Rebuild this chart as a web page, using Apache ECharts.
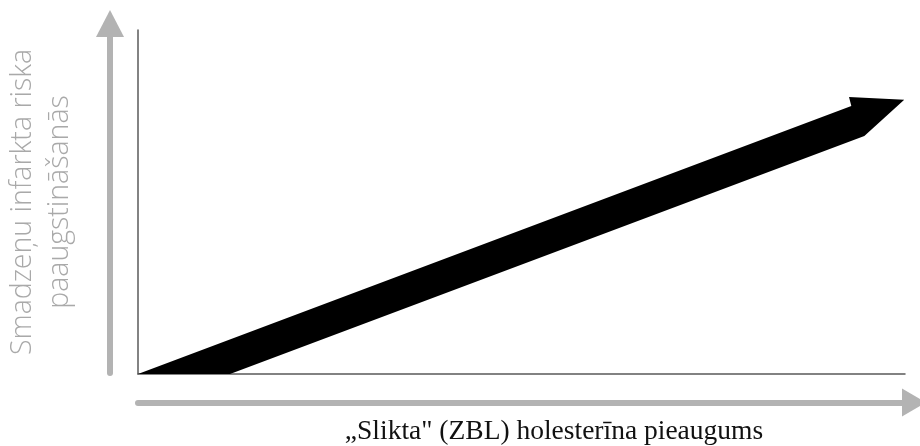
<!DOCTYPE html>
<html>
<head>
<meta charset="utf-8">
<script src="https://cdn.jsdelivr.net/npm/echarts@6/dist/echarts.min.js"></script>
<style>
  html, body { margin: 0; padding: 0; background: #fff; }
  #chart { width: 920px; height: 446px; }
</style>
</head>
<body>
<div id="chart"></div>
<script>
// black trend arrow outline, in axis units (0..100 on both axes)
const arrowX = [0, 93.0, 92.7, 99.9, 94.7, 12.0];
const arrowY = [0, 77.9, 80.5, 79.7, 69.2, 0];

const yName = "Smadzeņu infarkta riska\npaaugstināšanās";
const xName = "„Slikta\" (ZBL) holesterīna pieaugums";

const chart = echarts.init(document.getElementById("chart"));

const hidden = {
  axisTick: { show: false },
  axisLabel: { show: false },
  splitLine: { show: false }
};

chart.setOption({
  animation: false,
  grid: [
    { left: 138, right: 15, top: 30, bottom: 72, outerBoundsMode: "none" },
    { left: 110, width: 1, top: 23.5, bottom: 73, outerBoundsMode: "none" },
    { left: 138, right: 6, top: 300, bottom: 43.5, outerBoundsMode: "none" }
  ],
  xAxis: [
    {
      gridIndex: 0, type: "value", min: 0, max: 100, ...hidden,
      axisLine: { show: true, onZero: false, lineStyle: { color: "#5a5a5a", width: 1.5 } }
    },
    { gridIndex: 1, type: "value", min: 0, max: 1, show: false },
    {
      gridIndex: 2, type: "value", min: 0, max: 100, ...hidden,
      axisLine: {
        show: true, onZero: false,
        symbol: ["none", "triangle"], symbolSize: [28, 24],
        lineStyle: { color: "#b3b3b3", width: 6 }
      },
      name: xName,
      nameLocation: "middle",
      nameGap: 15,
      nameTextStyle: {
        fontFamily: "Liberation Serif", fontSize: 27.5, color: "#111",
        padding: [0, 0, 0, 56]
      }
    }
  ],
  yAxis: [
    {
      gridIndex: 0, type: "value", min: 0, max: 100, ...hidden,
      axisLine: { show: true, onZero: false, lineStyle: { color: "#5a5a5a", width: 1.5 } },
      name: yName,
      nameLocation: "middle",
      nameGap: 60,
      nameTextStyle: {
        fontFamily: "Open Sans", fontSize: 28.5, fontWeight: 300,
        color: "#a9a9a9", lineHeight: 37, align: "center"
      }
    },
    {
      gridIndex: 1, type: "value", min: 0, max: 100, ...hidden,
      axisLine: {
        show: true, onZero: false,
        symbol: ["none", "triangle"], symbolSize: [28, 27],
        lineStyle: { color: "#b3b3b3", width: 6 }
      }
    },
    { gridIndex: 2, type: "value", min: 0, max: 1, show: false }
  ],
  series: [
    {
      type: "custom",
      xAxisIndex: 0,
      yAxisIndex: 0,
      data: [[0, 0]],
      renderItem: function (params, api) {
        const pts = arrowX.map((x, i) => api.coord([x, arrowY[i]]));
        return { type: "polygon", shape: { points: pts }, style: { fill: "#000" } };
      }
    }
  ]
});
</script>
</body>
</html>
